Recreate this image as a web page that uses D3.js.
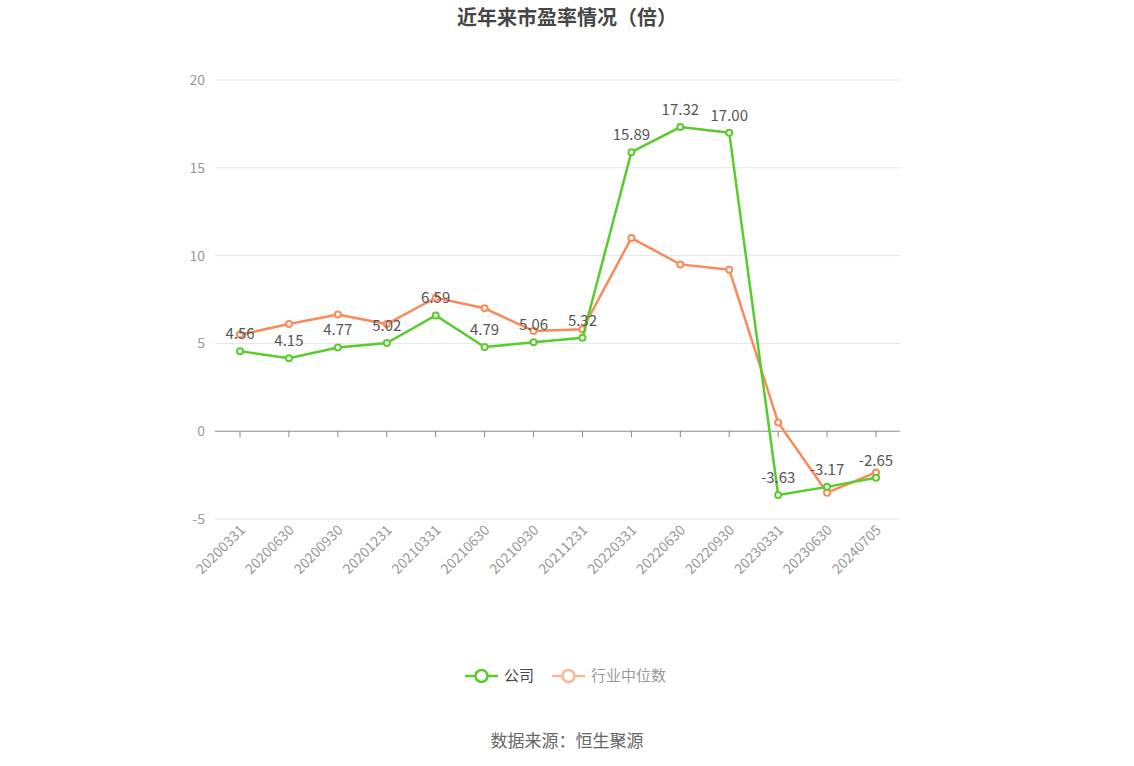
<!DOCTYPE html>
<html><head><meta charset="utf-8">
<script src="https://cdn.jsdelivr.net/npm/d3@7"></script>
<style>body{margin:0;background:#fff;font-family:"Noto Sans CJK SC","Noto Sans",sans-serif}</style>
</head><body><svg id="viz" width="1134" height="766"></svg>
<script>
const categories = ["20200331","20200630","20200930","20201231","20210331","20210630","20210930","20211231","20220331","20220630","20220930","20230331","20230630","20240705"];
const company = [4.56,4.15,4.77,5.02,6.59,4.79,5.06,5.32,15.89,17.32,17.00,-3.63,-3.17,-2.65];
const industry = [5.5,6.1,6.65,6.1,7.6,7.0,5.7,5.8,11.0,9.5,9.2,0.5,-3.5,-2.35];
const yTicks = [-5,0,5,10,15,20];

const svg = d3.select("#viz");
const x = d3.scalePoint().domain(categories).range([240,876]);
const y = d3.scaleLinear().domain([-5,20]).range([519,80]);

svg.append("text").attr("x",567).attr("y",25).attr("text-anchor","middle")
  .attr("font-size",20).attr("font-weight","bold").attr("fill","#464646").text("近年来市盈率情况（倍）");

svg.append("g").selectAll("line").data(yTicks.filter(d=>d!==0)).join("line")
  .attr("x1",215).attr("x2",900).attr("y1",d=>y(d)).attr("y2",d=>y(d)).attr("stroke","#e0e6f1");
svg.append("g").selectAll("text").data(yTicks).join("text")
  .attr("x",205).attr("y",d=>y(d)+5).attr("text-anchor","end").attr("font-size",14).attr("fill","#999").text(d=>d);
svg.append("line").attr("x1",215).attr("x2",900).attr("y1",y(0)).attr("y2",y(0)).attr("stroke","#888");
svg.append("g").selectAll("line").data(categories).join("line")
  .attr("x1",d=>x(d)).attr("x2",d=>x(d)).attr("y1",y(0)).attr("y2",y(0)+6).attr("stroke","#888");
svg.append("g").selectAll("text").data(categories).join("text")
  .attr("transform",d=>`translate(${x(d)+6},${y(-5)+12}) rotate(-45)`)
  .attr("text-anchor","end")
  .attr("font-size",14).attr("fill","#999").text(d=>d);

function series(vals,color){
  const line = d3.line().x((d,i)=>x(categories[i])).y(d=>y(d));
  svg.append("path").datum(vals).attr("d",line).attr("fill","none").attr("stroke",color).attr("stroke-width",2.5);
  svg.append("g").selectAll("circle").data(vals).join("circle")
    .attr("cx",(d,i)=>x(categories[i])).attr("cy",d=>y(d)).attr("r",3)
    .attr("fill","#fff").attr("stroke",color).attr("stroke-width",2);
}
series(industry,"#fb8a5b");
series(company,"#58cc2b");
svg.append("g").selectAll("text").data(company).join("text")
  .attr("x",(d,i)=>x(categories[i])).attr("y",d=>y(d)-12).attr("text-anchor","middle")
  .attr("font-size",15).attr("fill","#555").text(d=>d.toFixed(2));

const lg = [["公司","#58cc2b","#464646",465],["行业中位数","#fdb797","#999",552]];
lg.forEach(([t,c,tc,lx])=>{
  const g = svg.append("g");
  g.append("line").attr("x1",lx).attr("x2",lx+33).attr("y1",676).attr("y2",676).attr("stroke",c).attr("stroke-width",2.5);
  g.append("circle").attr("cx",lx+16.5).attr("cy",676).attr("r",6).attr("fill","#fff").attr("stroke",c).attr("stroke-width",2.5);
  g.append("text").attr("x",lx+39).attr("y",681).attr("font-size",15).attr("fill",tc).text(t);
});
svg.append("text").attr("x",567).attr("y",747).attr("text-anchor","middle").attr("font-size",17).attr("fill","#666").text("数据来源：恒生聚源");
</script></body></html>
